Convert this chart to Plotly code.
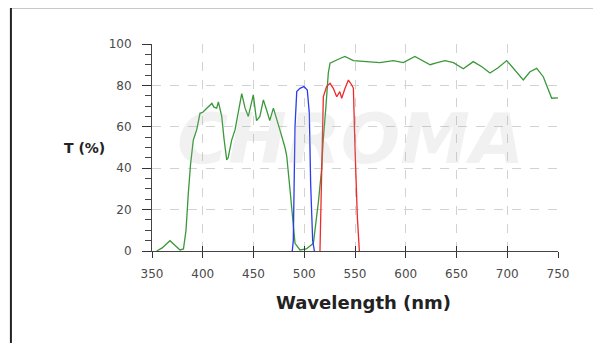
import plotly.graph_objects as go

# ---- data ----
green_wl = [354.6, 360, 367.7, 372, 377.6, 381, 383.5, 385.8, 388, 390.7, 394, 397.3, 400, 404,
            409, 411, 413.7, 415.4, 418.7, 421, 423.6, 425, 428.5, 431.8, 435, 438.4, 441.7,
            444.9, 449.8, 453, 456.3, 459.7, 463, 466, 469.6, 472.9, 476, 481, 482.7, 486,
            488.6, 490.9, 495.8, 502, 509, 512.3, 514, 517, 518.7, 521.4, 523.7, 525.4, 527,
            533, 540, 548.4, 561.5, 574.6, 587.8, 597.6, 609, 616, 624, 631, 638.7, 647,
            656.7, 666.5, 675, 683, 691, 699.5, 709, 715.8, 722.4, 729, 735.5, 740, 743.8, 750]
green_t = [0, 1.5, 5, 3, 0.5, 1, 10, 28, 42, 53.6, 58.5, 66.5, 67, 69,
           71.3, 69.5, 69, 72, 65, 54, 44, 45, 53.6, 58.5, 68, 76, 69,
           65, 75.4, 63, 65, 73, 68, 63, 69, 63, 58.5, 50, 46, 29.5,
           13.4, 3.7, 0.5, 1, 3.7, 16.6, 24, 39, 53.6, 70, 86, 90.7, 91,
           92.5, 94, 92, 91.5, 91, 92, 91, 94, 92, 90, 91, 92, 91,
           88, 91.5, 89, 86, 88.5, 92, 86.6, 82.6, 86.6, 88.2, 84.2, 78, 73.8, 74]

blue_wl = [488.2, 489.2, 490.9, 492.6, 495.8, 499.7, 503, 505, 506.3, 508.3, 510]
blue_t = [0, 5, 60, 77, 78.6, 79.4, 77.8, 66.5, 32.7, 5, 0]

red_wl = [515.5, 517, 518.8, 522, 525.4, 528.6, 532, 535, 536.9, 540.2, 543.5, 546.8,
          548.4, 550, 552.3, 554.3]
red_t = [0, 29.5, 74.5, 79.4, 81, 78.6, 74.5, 77, 73.8, 78.6, 82.6, 80.2,
         78.6, 50, 16.6, 0]

x_ticks = [350, 400, 450, 500, 550, 600, 650, 700, 750]
y_ticks = [0, 20, 40, 60, 80, 100]

fig = go.Figure()
fig.add_trace(go.Scatter(x=green_wl, y=green_t, mode="lines",
                         line=dict(color="#3a983a", width=1.3), showlegend=False))
fig.add_trace(go.Scatter(x=blue_wl, y=blue_t, mode="lines",
                         line=dict(color="#2a3cf0", width=1.3), showlegend=False))
fig.add_trace(go.Scatter(x=red_wl, y=red_t, mode="lines",
                         line=dict(color="#ee2a2a", width=1.3), showlegend=False))

tickfont = dict(family="DejaVu Sans", size=12, color="#4a4a4a")

fig.update_layout(
    width=593, height=335,
    margin=dict(l=144, r=43, t=36, b=92),
    paper_bgcolor="white", plot_bgcolor="white",
    xaxis=dict(range=[350, 750], tickvals=x_ticks, ticks="outside", ticklen=6,
               tickcolor="#333", showline=True, linecolor="#444", linewidth=1,
               showgrid=True, gridcolor="#d2d2d2", griddash="dash", gridwidth=1,
               zeroline=False, tickfont=tickfont, ticklabelstandoff=6),
    xaxis2=dict(range=[350, 750], overlaying="x", anchor="y", side="bottom",
                tickvals=x_ticks, ticks="inside", ticklen=5, tickcolor="#333",
                showticklabels=False, showgrid=False, showline=False, zeroline=False),
    yaxis=dict(range=[0, 100], tickvals=y_ticks, ticks="outside", ticklen=9,
               tickcolor="#333", showline=True, linecolor="#444", linewidth=1,
               showgrid=True, gridcolor="#d2d2d2", griddash="dash", gridwidth=1,
               zeroline=False, tickfont=tickfont, ticklabelstandoff=8,
               minor=dict(dtick=5, ticks="outside", ticklen=6, tickcolor="#444",
                          showgrid=False)),
    shapes=[
        dict(type="line", xref="paper", yref="paper", x0=-0.3475, x1=-0.3475,
             y0=1.178, y1=-0.5, line=dict(color="#222", width=2)),
        dict(type="line", xref="paper", yref="paper", x0=-0.3475, x1=1.2,
             y0=1.178, y1=1.178, line=dict(color="#222", width=2)),
    ],
    annotations=[
        dict(text="CHROMA", xref="paper", yref="paper", x=0.49, y=0.54,
             showarrow=False, font=dict(family="DejaVu Sans", size=70,
                                        color="rgba(170,170,170,0.17)",
                                        weight="bold", style="italic")),
        dict(text="<b>T (%)</b>", xref="paper", yref="paper", x=-0.222, y=0.496,
             showarrow=False, font=dict(family="DejaVu Sans", size=14, color="#222")),
        dict(text="<b>Wavelength (nm)</b>", xref="paper", yref="paper", x=0.52,
             y=-0.25, yanchor="middle", showarrow=False,
             font=dict(family="DejaVu Sans", size=18, color="#222")),
    ],
)
# make the overlay axis render
fig.add_trace(go.Scatter(x=[None], y=[None], xaxis="x2", showlegend=False))

fig.write_html("out.html")
